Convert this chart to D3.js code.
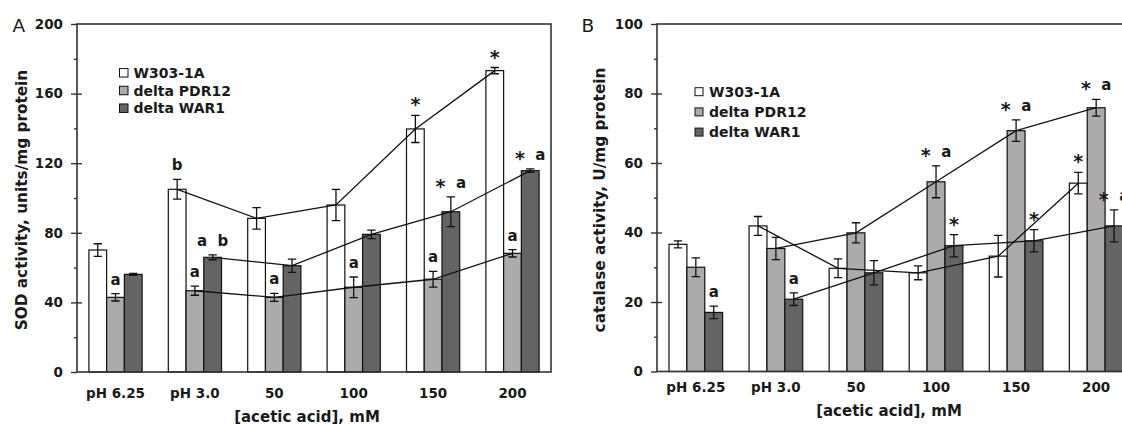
<!DOCTYPE html>
<html>
<head>
<meta charset="utf-8">
<script src="https://cdn.jsdelivr.net/npm/d3@7"></script>
<style>
  html, body { margin: 0; padding: 0; background: #fff; }
  svg { display: block; font-family: "DejaVu Sans", sans-serif; }
</style>
</head>
<body>
<svg id="chart" width="1122" height="425"></svg>
<script>
// ---------------- data ----------------
const categories = ["pH 6.25", "pH 3.0", "50", "100", "150", "200"];
const seriesNames = ["W303-1A", "delta PDR12", "delta WAR1"];

// Panel A: SOD activity, units/mg protein
const sodW303 = [70.1, 105, 88.3, 96, 139.7, 173.2];
const sodW303Err = [3.6, 5.7, 6.2, 9, 7.8, 1.8];
const sodPDR12 = [42.9, 46.7, 42.9, 48.7, 53.3, 68.2];
const sodPDR12Err = [2.1, 2.6, 2.3, 5.9, 4.5, 2.1];
const sodWAR1 = [56.1, 65.9, 61.1, 79.1, 92.1, 115.7];
const sodWAR1Err = [0.5, 1.4, 3.8, 2.4, 8.6, 1];
const sodMarksW303 = ["", "b", "", "", "*", "*"];
const sodMarksPDR12 = ["a", "a", "a", "a", "a", "a"];
const sodMarksWAR1 = ["", "a b", "", "", "* a", "* a"];
const sodTicks = [0, 40, 80, 120, 160, 200];

// Panel B: catalase activity, U/mg protein
const catW303 = [36.6, 41.9, 29.7, 28.4, 33.2, 54.2];
const catW303Err = [1, 2.7, 2.7, 2, 6, 3.1];
const catPDR12 = [30, 35.4, 39.9, 54.6, 69.3, 75.9];
const catPDR12Err = [2.7, 3.2, 2.9, 4.6, 3.1, 2.4];
const catWAR1 = [17, 20.8, 28.4, 36.2, 37.6, 41.9];
const catWAR1Err = [1.8, 1.8, 3.5, 3.2, 3.2, 4.6];
const catMarksW303 = ["", "", "", "", "", "*"];
const catMarksPDR12 = ["", "", "", "* a", "* a", "* a"];
const catMarksWAR1 = ["a", "a", "", "*", "*", "* a"];
const catTicks = [0, 20, 40, 60, 80, 100];

// ---------------- layout / style ----------------
const fills = ["#ffffff", "#ababab", "#646464"];
const ink = "#1a1a1a";
const svg = d3.select("#chart");

const panels = [
  {
    letter: "A", x0: 77, x1: 551, yBot: 372, yTop: 24,
    ticks: sodTicks,
    values: [sodW303, sodPDR12, sodWAR1],
    errs: [sodW303Err, sodPDR12Err, sodWAR1Err],
    marks: [sodMarksW303, sodMarksPDR12, sodMarksWAR1],
    yTitle: "SOD activity, units/mg protein", yTitleX: 26.5,
    letterX: 12.5, tickPad: 16, xTitleBase: 422,
    legX: 119.5, legY: 72.8, legDy: 17.7, legSq: 8.5
  },
  {
    letter: "B", x0: 657, x1: 1135, yBot: 371.5, yTop: 24,
    ticks: catTicks,
    values: [catW303, catPDR12, catWAR1],
    errs: [catW303Err, catPDR12Err, catWAR1Err],
    marks: [catMarksW303, catMarksPDR12, catMarksWAR1],
    yTitle: "catalase activity, U/mg protein", yTitleX: 605,
    letterX: 581.5, tickPad: 11, xTitleBase: 416,
    legX: 695, legY: 91.7, legDy: 20.2, legSq: 8
  }
];

panels.forEach(p => {
  const g = svg.append("g");
  const maxV = p.ticks[p.ticks.length - 1];
  const y = d3.scaleLinear().domain([0, maxV]).range([p.yBot, p.yTop]);
  const x0 = d3.scaleBand().domain(categories).range([p.x0, p.x1])
    .paddingInner(0.33).paddingOuter(0.15);
  const x1 = d3.scaleBand().domain(seriesNames).range([0, x0.bandwidth()]);
  const minorTicks = d3.range(p.ticks.length - 1).map(i => (p.ticks[i] + p.ticks[i + 1]) / 2);

  // bars
  seriesNames.forEach((s, si) => {
    g.append("g").selectAll("rect").data(categories).join("rect")
      .attr("x", c => x0(c) + x1(s))
      .attr("y", (c, ci) => y(p.values[si][ci]))
      .attr("width", x1.bandwidth())
      .attr("height", (c, ci) => y(0) - y(p.values[si][ci]))
      .attr("fill", fills[si])
      .attr("stroke", "#111")
      .attr("stroke-width", 1.2);
  });

  // error bars
  seriesNames.forEach((s, si) => {
    const eg = g.append("g").attr("stroke", "#111").attr("stroke-width", 1.3).attr("fill", "none");
    categories.forEach((c, ci) => {
      const cx = x0(c) + x1(s) + x1.bandwidth() / 2;
      const v = p.values[si][ci], e = p.errs[si][ci];
      const yt = y(v + e), yb = y(v - e);
      eg.append("path").attr("d",
        `M${cx},${yt}V${yb}M${cx - 4.2},${yt}H${cx + 4.2}M${cx - 4.2},${yb}H${cx + 4.2}`);
    });
  });

  // connecting lines (from pH 3.0 onward)
  seriesNames.forEach((s, si) => {
    const pts = categories.slice(1).map((c, k) => [
      x0(c) + x1(s) + x1.bandwidth() / 2, y(p.values[si][k + 1])
    ]);
    g.append("path").attr("d", d3.line()(pts))
      .attr("fill", "none").attr("stroke", "#111").attr("stroke-width", 1.3);
  });

  // annotation marks
  seriesNames.forEach((s, si) => {
    categories.forEach((c, ci) => {
      const txt = p.marks[si][ci];
      if (!txt) return;
      const cx = x0(c) + x1(s) + x1.bandwidth() / 2;
      const top = y(p.values[si][ci] + p.errs[si][ci]);
      const t = g.append("text")
        .attr("x", cx).attr("y", top - 9)
        .attr("text-anchor", "middle")
        .attr("font-size", 15).attr("font-weight", "bold").attr("fill", ink);
      const parts = txt.split(" ");
      let shift = 0;
      parts.forEach((part, k) => {
        const isStar = part === "*";
        const target = isStar ? 5 : 0;
        t.append("tspan")
          .attr("dy", target - shift)
          .attr("font-size", isStar ? 19 : 15)
          .text((k > 0 ? "\u00A0\u00A0" : "") + part);
        shift = target;
      });
    });
  });

  // frame
  g.append("rect")
    .attr("x", p.x0).attr("y", p.yTop)
    .attr("width", p.x1 - p.x0).attr("height", p.yBot - p.yTop)
    .attr("fill", "none").attr("stroke", "#333").attr("stroke-width", 1.6);

  // y axis: labels + outward major ticks
  const ya = g.append("g").attr("transform", `translate(${p.x0},0)`)
    .call(d3.axisLeft(y).tickValues(p.ticks).tickSize(6).tickPadding(8).tickFormat(d3.format("d")));
  ya.select(".domain").remove();
  ya.selectAll("line").attr("stroke", "#333").attr("stroke-width", 1.4);
  ya.selectAll("text").attr("font-family", "DejaVu Sans").attr("font-size", 13.5)
    .attr("font-weight", "bold").attr("fill", ink);
  // inward major ticks
  const yi = g.append("g").attr("transform", `translate(${p.x0},0)`)
    .call(d3.axisRight(y).tickValues(p.ticks.slice(1, -1)).tickSize(5).tickFormat(""));
  yi.select(".domain").remove();
  yi.selectAll("line").attr("stroke", "#333").attr("stroke-width", 1.4);
  // minor ticks
  const ym = g.append("g").attr("transform", `translate(${p.x0},0)`)
    .call(d3.axisLeft(y).tickValues(minorTicks).tickSize(3).tickFormat(""));
  ym.select(".domain").remove();
  ym.selectAll("line").attr("stroke", "#333").attr("stroke-width", 1.4);

  // x axis labels
  const xa = g.append("g").attr("transform", `translate(0,${p.yBot})`)
    .call(d3.axisBottom(x0).tickSize(0).tickPadding(p.tickPad));
  xa.select(".domain").remove();
  xa.selectAll("text").attr("font-family", "DejaVu Sans").attr("font-size", 13.5)
    .attr("font-weight", "bold").attr("fill", ink);

  // x axis title
  g.append("text")
    .attr("x", (p.x0 + p.x1) / 2 - 7).attr("y", p.xTitleBase)
    .attr("text-anchor", "middle").attr("font-size", 15).attr("font-weight", "bold")
    .attr("fill", ink).text("[acetic acid], mM");

  // y axis title
  g.append("text")
    .attr("transform", `translate(${p.yTitleX},200) rotate(-90)`)
    .attr("text-anchor", "middle").attr("font-size", 15.3).attr("font-weight", "bold")
    .attr("fill", ink).text(p.yTitle);

  // panel letter
  g.append("text")
    .attr("x", p.letterX).attr("y", 31.7)
    .attr("font-size", 18.5).attr("fill", ink).text(p.letter);

  // legend
  seriesNames.forEach((s, si) => {
    const cy = p.legY + si * p.legDy;
    g.append("rect")
      .attr("x", p.legX).attr("y", cy - p.legSq / 2)
      .attr("width", p.legSq).attr("height", p.legSq)
      .attr("fill", fills[si]).attr("stroke", "#111").attr("stroke-width", 1);
    g.append("text")
      .attr("x", p.legX + 14).attr("y", cy + 5)
      .attr("font-size", 14).attr("font-weight", "bold").attr("fill", ink)
      .text(s);
  });
});
</script>
</body>
</html>
